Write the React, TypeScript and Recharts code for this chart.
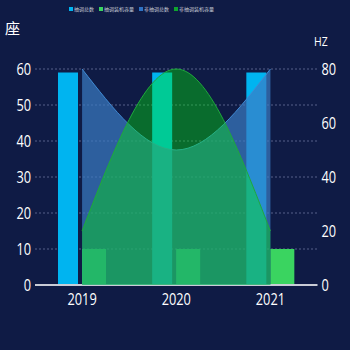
import React from "react";
import { ComposedChart, Bar, Area, XAxis, YAxis, CartesianGrid, Legend } from "recharts";

const years = ["2019", "2020", "2021"];
const pumpedTotal = [59, 59, 59];
const pumpedCapacity = [10, 10, 10];
const otherTotal = [80, 50, 80];
const otherCapacity = [20, 80, 20];

const seriesNames = ["抽调总数", "抽调装机容量", "非抽调总数", "非抽调装机容量"];
const legendColors = ["#00b4f0", "#3ad460", "#2e72c4", "#0fa52e"];

const data = years.map((year, i) => ({
  year,
  pumpedTotal: pumpedTotal[i],
  pumpedCapacity: pumpedCapacity[i],
  otherTotal: otherTotal[i],
  otherCapacity: otherCapacity[i],
}));

const FONT = "'Open Sans', sans-serif";

// narrow tick text, the original uses a condensed face
const NarrowTick = ({ x, y, payload, textAnchor, dy }: any) => (
  <g transform={`translate(${x},${y}) scale(0.8,1)`}>
    <text x={0} y={0} dy={dy} textAnchor={textAnchor} fontSize={16} fill="#ffffff" fontFamily={FONT}>
      {payload.value}
    </text>
  </g>
);

const XTick = (props: any) => <NarrowTick {...props} dy="0.71em" />;
const YTick = (props: any) => <NarrowTick {...props} dy="0.355em" />;

const ChartLegend = () => (
  <div style={{ display: "flex", alignItems: "center", fontSize: 5, color: "#c8cbd6", fontFamily: "'Noto Sans CJK SC', sans-serif" }}>
    {seriesNames.map((name, i) => (
      <div key={name} style={{ display: "flex", alignItems: "center", marginRight: 5 }}>
        <span style={{ width: 4, height: 4, background: legendColors[i], marginRight: 1, display: "inline-block" }} />
        <span style={{ lineHeight: "6px" }}>{name}</span>
      </div>
    ))}
  </div>
);

export default function App() {
  return (
    <div style={{ position: "fixed", left: 0, top: 0, width: 350, height: 350, background: "#0f1b45" }}>
      <div style={{ position: "absolute", left: 5, top: 17, fontSize: 15, color: "#fff", fontFamily: "'Noto Sans CJK SC', sans-serif" }}>座</div>
      <div style={{ position: "absolute", left: 314, top: 32, fontSize: 13, color: "#fff", fontFamily: FONT, transform: "scaleX(0.8)", transformOrigin: "left" }}>HZ</div>
      <ComposedChart
        width={350}
        height={350}
        data={data}
        margin={{ top: 63, right: 0, bottom: 35, left: 0 }}
        barGap={4}
      >
        <CartesianGrid yAxisId="left" vertical={false} stroke="#56618a" strokeDasharray="2 2" horizontalValues={[10, 20, 30, 40, 50, 60]} />
        <XAxis
          dataKey="year"
          axisLine={{ stroke: "#c9ccd6", strokeWidth: 2 }}
          tickLine={false}
          tickSize={0}
          tickMargin={9}
          height={30}
          tick={<XTick />}
        />
        <YAxis
          yAxisId="left"
          orientation="left"
          domain={[0, 60]}
          ticks={[0, 10, 20, 30, 40, 50, 60]}
          width={35}
          axisLine={false}
          tickLine={false}
          tickSize={0}
          tickMargin={4}
          tick={<YTick />}
        />
        <YAxis
          yAxisId="right"
          orientation="right"
          domain={[0, 80]}
          ticks={[0, 20, 40, 60, 80]}
          width={32.5}
          axisLine={false}
          tickLine={false}
          tickSize={0}
          tickMargin={4}
          tick={<YTick />}
        />
        <Legend
          verticalAlign="top"
          wrapperStyle={{ position: "absolute", top: 6, left: 69, width: "auto" }}
          content={() => <ChartLegend />}
        />
        <Bar yAxisId="left" dataKey="pumpedTotal" name={seriesNames[0]} fill="#00b4f0" barSize={20} isAnimationActive={false} />
        <Bar yAxisId="left" dataKey="pumpedCapacity" name={seriesNames[1]} fill="#3ad460" barSize={24} isAnimationActive={false} />
        <Area
          yAxisId="right"
          type="monotone"
          dataKey="otherTotal"
          name={seriesNames[2]}
          stroke="#3f8ad4"
          strokeWidth={1}
          fill="#3b7cc4"
          fillOpacity={0.7}
          dot={false}
          activeDot={false}
          zIndex={500}
          isAnimationActive={false}
        />
        <Area
          yAxisId="right"
          type="monotone"
          dataKey="otherCapacity"
          name={seriesNames[3]}
          stroke="#1fa83c"
          strokeWidth={1}
          fill="#00ee08"
          fillOpacity={0.39}
          dot={false}
          activeDot={false}
          zIndex={510}
          isAnimationActive={false}
        />
      </ComposedChart>
    </div>
  );
}
